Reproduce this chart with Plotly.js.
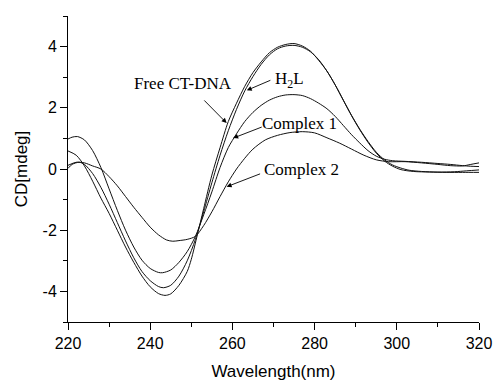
<!DOCTYPE html>
<html>
<head>
<meta charset="utf-8">
<script src="https://cdn.plot.ly/plotly-3.0.1.min.js"></script>
<style>html,body{margin:0;padding:0;background:#fff;}#chart{width:493px;height:381px;}</style>
</head>
<body>
<div id="chart"></div>
<script>
// Wavelength (nm) and CD (mdeg) for each series
const freeX = [220,222,224,226,228,230,232,234,236,238,240,242,243.6,245,247,249,250,251.3,253,255,257,259,261,263,265,267,269,271,273,275,277,279,281,283,285,287,289,291,293,295,297,299,301,303,306,310,314,317,320];
const freeY = [0.59,0.45,0.1,-0.4,-0.95,-1.45,-2.0,-2.55,-3.05,-3.5,-3.85,-4.07,-4.13,-4.08,-3.8,-3.35,-2.95,-2.25,-1.3,-0.2,0.7,1.55,2.15,2.7,3.15,3.5,3.8,3.98,4.07,4.1,4.02,3.85,3.55,3.2,2.75,2.25,1.75,1.3,0.9,0.55,0.3,0.13,0.03,-0.04,-0.08,-0.1,-0.09,-0.06,-0.03];

const h2lX = [220,221,222.7,224,226,228,230,232,234,236,238,240,242,243.2,245,247,249,251,253,255,257,259,261,263,265,267,269,271,273,275,277,279,281,283,285,287,289,291,293,295,297,299,301,304,308,312,316,320];
const h2lY = [0.02,0.15,0.22,0.15,-0.15,-0.6,-1.15,-1.75,-2.35,-2.9,-3.35,-3.65,-3.84,-3.88,-3.8,-3.5,-3.0,-2.3,-1.4,-0.45,0.45,1.25,1.95,2.55,3.02,3.42,3.73,3.93,4.02,4.04,3.98,3.83,3.57,3.2,2.75,2.24,1.74,1.28,0.87,0.52,0.26,0.09,-0.02,-0.08,-0.1,-0.11,-0.11,-0.11];

const c1X = [220,221,222.3,224,226,228,230,232,234,236,238,240,242,243,245,247,249,251,253,255,257,259,261,263,265,267,269,271,273,275,277,279,281,283,285,287,289,291,293,295,297,299,302,306,310,313,316,318,320];
const c1Y = [0.98,1.04,1.06,0.95,0.6,0.05,-0.65,-1.35,-2.0,-2.55,-2.98,-3.25,-3.38,-3.39,-3.3,-3.05,-2.7,-2.2,-1.5,-0.75,0.05,0.7,1.15,1.55,1.85,2.08,2.25,2.36,2.42,2.43,2.4,2.3,2.15,1.97,1.72,1.42,1.12,0.85,0.6,0.42,0.32,0.27,0.25,0.22,0.18,0.15,0.11,0.09,0.08];

const c2X = [220,222,224,226,228,230,232,234,236,238,240,242,244,245.5,247,249,251,253,255,257,259,261,263,265,268,271,274,277,280,283,286,289,292,295,298,302,306,310,313,316,318,320];
const c2Y = [0.12,0.22,0.2,0.1,0.0,-0.25,-0.55,-0.9,-1.25,-1.58,-1.9,-2.15,-2.32,-2.36,-2.34,-2.3,-2.2,-1.85,-1.4,-0.9,-0.42,0.0,0.35,0.65,0.95,1.1,1.19,1.22,1.18,1.02,0.85,0.65,0.45,0.3,0.24,0.24,0.2,0.15,0.11,0.1,0.15,0.2];

const yTickVals = [-4,-2,0,2,4];
const yTickText = ['-4','-2','0','2','4'];
const xTickVals = [220,240,260,280,300,320];

// Labels: [text, textX, textY, arrowTailX, arrowTailY, arrowTipX, arrowTipY]
const labels = [
  ['Free CT-DNA', 248.0, 2.79, 252.8, 2.29, 258.6, 1.5],
  ['H<sub>2</sub>L', 274.0, 2.92, 269.6, 2.92, 263.5, 2.57],
  ['Complex 1', 276.4, 1.49, 267.5, 1.39, 260.2, 1.01],
  ['Complex 2', 276.9, -0.03, 267.1, -0.14, 258.6, -0.58]
];

const lineStyle = {color: '#111', width: 1, shape: 'spline', smoothing: 0.8};
const series = [[freeX, freeY], [h2lX, h2lY], [c1X, c1Y], [c2X, c2Y]];
const traces = series.map(s => ({x: s[0], y: s[1], mode: 'lines', line: lineStyle, hoverinfo: 'skip'}));

const annotations = [];
labels.forEach(l => {
  annotations.push({x: l[1], y: l[2], xref: 'x', yref: 'y', text: l[0], showarrow: false,
    font: {family: 'Liberation Serif', size: 17, color: '#000'}});
  annotations.push({x: l[5], y: l[6], ax: l[3], ay: l[4], xref: 'x', yref: 'y', axref: 'x', ayref: 'y',
    text: '', showarrow: true, arrowhead: 2, arrowsize: 1.1, arrowwidth: 0.9, arrowcolor: '#000', standoff: 0, startstandoff: 0});
});

const axisCommon = {
  showline: true, linecolor: '#000', linewidth: 1, mirror: false,
  showgrid: false, zeroline: false, ticks: 'outside', ticklen: 7, tickwidth: 1, tickcolor: '#000',
  tickfont: {family: 'Liberation Sans, Arial, sans-serif', size: 16, color: '#000'}
};

const layout = {
  width: 493, height: 381,
  margin: {l: 68, r: 14, t: 16, b: 59},
  paper_bgcolor: '#fff', plot_bgcolor: '#fff',
  showlegend: false,
  xaxis: Object.assign({}, axisCommon, {
    range: [220, 320], tickmode: 'array', tickvals: xTickVals,
    minor: {dtick: 10, ticks: 'outside', ticklen: 4, tickwidth: 1, tickcolor: '#000', showgrid: false},
    title: {text: 'Wavelength(nm)', standoff: 13, font: {family: 'Liberation Sans, Arial, sans-serif', size: 17, color: '#000'}}
  }),
  yaxis: Object.assign({}, axisCommon, {
    range: [-5, 5], tickmode: 'array', tickvals: yTickVals, ticktext: yTickText,
    minor: {dtick: 1, tick0: 0, ticks: 'outside', ticklen: 4, tickwidth: 1, tickcolor: '#000', showgrid: false},
    title: {text: 'CD[mdeg]', standoff: 10, font: {family: 'Liberation Sans, Arial, sans-serif', size: 17, color: '#000'}}
  }),
  annotations: annotations
};

Plotly.newPlot('chart', traces, layout, {staticPlot: true, displayModeBar: false});
</script>
</body>
</html>
